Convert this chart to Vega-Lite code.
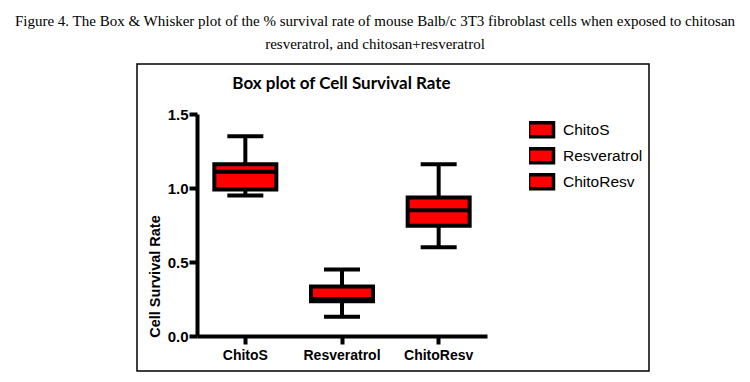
{
  "$schema": "https://vega.github.io/schema/vega-lite/v6.json",
  "width": 512,
  "height": 307,
  "autosize": {"type": "none"},
  "padding": {"left": 137, "top": 64, "right": 101, "bottom": 11},
  "background": "white",
  "config": {
    "view": {"stroke": "#000000", "strokeWidth": 1.5},
    "axis": {"grid": false}
  },
  "title": {
    "text": ["Figure 4. The Box & Whisker plot of the % survival rate of mouse Balb/c 3T3 fibroblast cells when exposed to chitosan", "resveratrol, and chitosan+resveratrol"],
    "font": "Liberation Serif",
    "fontSize": 15,
    "fontWeight": "normal",
    "color": "#000000",
    "anchor": "middle",
    "frame": "group",
    "dx": -18,
    "offset": 12,
    "lineHeight": 23
  },
  "data": {
    "values": [
      {"group": "ChitoS", "lower": 0.95, "q1": 0.99, "median": 1.11, "q3": 1.16, "upper": 1.35},
      {"group": "Resveratrol", "lower": 0.13, "q1": 0.235, "median": 0.25, "q3": 0.335, "upper": 0.45},
      {"group": "ChitoResv", "lower": 0.6, "q1": 0.745, "median": 0.85, "q3": 0.935, "upper": 1.16}
    ]
  },
  "resolve": {"axis": {"x": "independent"}},
  "layer": [
    {
      "mark": {"type": "rule", "color": "#000000", "strokeWidth": 4},
      "encoding": {
        "x": {
          "field": "group", "type": "nominal", "sort": ["ChitoS", "Resveratrol", "ChitoResv"],
          "scale": {"range": [60, 350], "paddingInner": 0, "paddingOuter": 0},
          "axis": {
            "orient": "bottom", "title": null, "offset": -35, "labelAngle": 0,
            "domainColor": "#000000", "domainWidth": 4, "tickColor": "#000000", "tickWidth": 4, "tickSize": 8,
            "labelFont": "Liberation Sans", "labelFontWeight": "bold", "labelFontSize": 14, "labelColor": "#000000", "labelPadding": 4
          }
        },
        "y": {
          "field": "lower", "type": "quantitative",
          "scale": {"domain": [0, 1.5], "range": [272, 50], "nice": false, "zero": false},
          "axis": {
            "offset": -60, "values": [0, 0.5, 1, 1.5], "format": ".1f",
            "domainColor": "#000000", "domainWidth": 4, "tickColor": "#000000", "tickWidth": 4, "tickSize": 8,
            "labelFont": "Liberation Sans", "labelFontWeight": "bold", "labelFontSize": 15, "labelColor": "#000000", "labelPadding": 1,
            "title": "Cell Survival Rate", "titleFont": "Liberation Sans", "titleFontWeight": "bold", "titleFontSize": 14.5, "titleColor": "#000000",
            "titleAngle": 270, "titleBaseline": "middle", "titleX": -42, "titleY": 212
          }
        },
        "y2": {"field": "upper"}
      }
    },
    {
      "mark": {"type": "tick", "color": "#000000", "size": 36, "thickness": 4, "opacity": 1},
      "encoding": {
        "x": {"field": "group", "type": "nominal", "sort": ["ChitoS", "Resveratrol", "ChitoResv"], "axis": null},
        "y": {"field": "upper", "type": "quantitative"}
      }
    },
    {
      "mark": {"type": "tick", "color": "#000000", "size": 36, "thickness": 4, "opacity": 1},
      "encoding": {
        "x": {"field": "group", "type": "nominal", "sort": ["ChitoS", "Resveratrol", "ChitoResv"], "axis": null},
        "y": {"field": "lower", "type": "quantitative"}
      }
    },
    {
      "mark": {"type": "bar", "size": 62, "stroke": "#000000", "strokeWidth": 4, "fillOpacity": 1},
      "encoding": {
        "x": {"field": "group", "type": "nominal", "sort": ["ChitoS", "Resveratrol", "ChitoResv"], "axis": null},
        "y": {"field": "q1", "type": "quantitative"},
        "y2": {"field": "q3"},
        "fill": {
          "field": "group", "type": "nominal",
          "scale": {"domain": ["ChitoS", "Resveratrol", "ChitoResv"], "range": ["#ff0000", "#ff0000", "#ff0000"]},
          "legend": {
            "title": null, "orient": "none", "legendX": 392, "legendY": 53, "padding": 0,
            "symbolType": "M-1.25,-0.7H1.25V0.7H-1.25Z", "symbolSize": 400, "symbolStrokeColor": "#000000", "symbolStrokeWidth": 3.5,
            "symbolFillColor": "#ff0000", "symbolOpacity": 1,
            "labelFont": "Liberation Sans", "labelFontSize": 15.5, "labelColor": "#000000", "labelOffset": 10, "rowPadding": 0, "clipHeight": 25.5
          }
        }
      }
    },
    {
      "mark": {"type": "tick", "color": "#000000", "size": 62, "thickness": 4, "opacity": 1},
      "encoding": {
        "x": {
          "field": "group", "type": "nominal", "sort": ["ChitoS", "Resveratrol", "ChitoResv"],
          "axis": {
            "orient": "top", "domain": false, "ticks": false, "labels": false,
            "title": "Box plot of Cell Survival Rate", "titleFont": "Lato", "titleFontWeight": "bold", "titleFontSize": 17, "titleColor": "#000000",
            "titleX": 204, "titleY": 19, "titleBaseline": "middle", "titleAlign": "center"
          }
        },
        "y": {"field": "median", "type": "quantitative"}
      }
    }
  ]
}
